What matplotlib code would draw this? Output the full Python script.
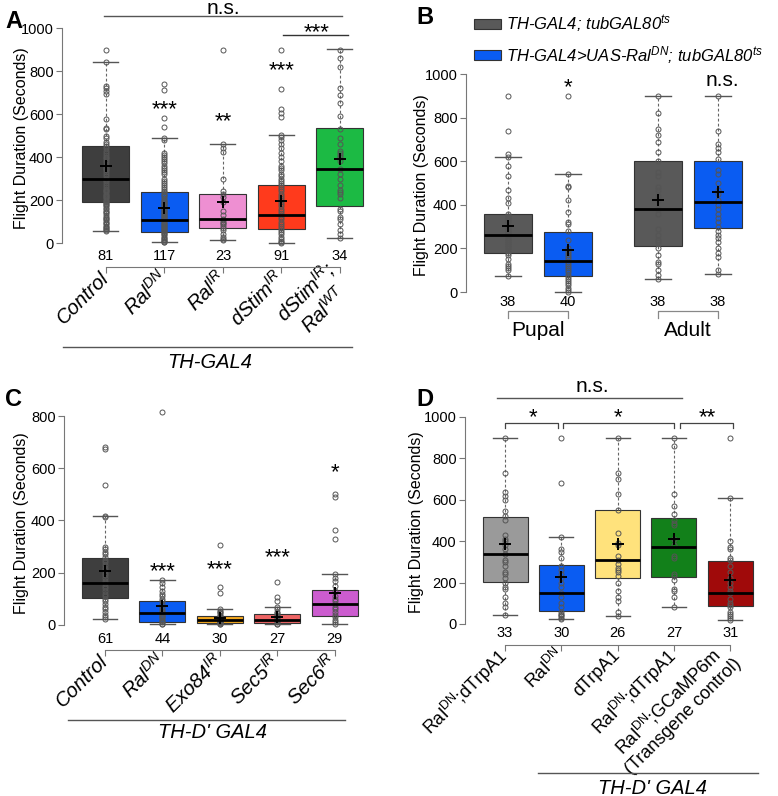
import matplotlib
matplotlib.use("Agg")
import matplotlib.pyplot as plt
from matplotlib.lines import Line2D
from matplotlib.patches import Patch
import numpy as np

plt.rcParams["font.family"] = "Liberation Sans"
plt.rcParams["mathtext.fontset"] = "custom"
plt.rcParams["mathtext.rm"] = "Liberation Sans"
plt.rcParams["mathtext.it"] = "Liberation Sans:italic"
plt.rcParams["mathtext.bf"] = "Liberation Sans:bold"

W, H = 778, 796

# ---------------- Panel A data ----------------
a_labels = ["Control", "Ral$^{DN}$", "Ral$^{IR}$", "dStim$^{IR}$", "dStim$^{IR}$;\nRal$^{WT}$"]
a_counts = [81, 117, 23, 91, 34]
a_q1 = [190, 51, 68, 65, 173]
a_med = [300, 105, 114, 131, 345]
a_q3 = [453, 235, 229, 269, 533]
a_lo = [57, 3, 15, 0, 23]
a_hi = [841, 487, 459, 502, 901]
a_mean = [360, 162, 193, 196, 390]
a_colors = ["#3e3e3e", "#0a5cf2", "#ee8fd2", "#ff3a1c", "#1cba44"]
a_points = [
    [900, 840, 730, 720, 705, 695, 575, 535, 530, 500, 490, 470, 460, 450, 440, 430, 420, 410,
     400, 395, 385, 375, 365, 355, 350, 345, 340, 330, 320, 310, 300, 295, 290, 280, 270, 260,
     250, 245, 240, 235, 230, 225, 220, 215, 210, 200, 195, 190, 185, 180, 175, 170, 165, 160,
     150, 145, 140, 130, 120, 115, 110, 105, 100, 95, 90, 80, 75, 70, 65, 60, 55],
    [740, 712, 583, 538, 487, 480, 420, 410, 400, 390, 380, 370, 360, 350, 340, 330, 320, 300,
     290, 280, 270, 260, 250, 240, 235, 230, 225, 220, 210, 200, 195, 190, 185, 180, 175, 170,
     165, 160, 155, 150, 145, 140, 135, 130, 125, 120, 115, 110, 105, 100, 95, 90, 85, 80, 75,
     70, 65, 60, 55, 50, 45, 40, 35, 30, 25, 20, 15, 10, 5, 3],
    [900, 459, 440, 425, 300, 240, 230, 215, 190, 150, 130, 110, 105, 100, 95, 90, 80, 70, 60,
     40, 30, 20, 15],
    [900, 714, 621, 606, 587, 502, 495, 480, 460, 440, 420, 400, 380, 360, 350, 340, 320, 310,
     300, 290, 280, 270, 260, 250, 240, 230, 220, 210, 200, 190, 180, 170, 160, 150, 140, 130,
     120, 110, 100, 90, 80, 70, 60, 50, 40, 30, 20, 10, 5, 0],
    [900, 860, 820, 720, 690, 650, 590, 530, 490, 460, 430, 420, 410, 400, 380, 345, 320, 300,
     270, 245, 235, 230, 210, 160, 150, 120, 110, 90, 60, 40, 25],
]

# ---------------- Panel B data ----------------
b_legend = ["TH-GAL4; tubGAL80$^{ts}$", "TH-GAL4>UAS-Ral$^{DN}$; tubGAL80$^{ts}$"]
b_groups = ["Pupal", "Adult"]
b_counts = [38, 40, 38, 38]
b_q1 = [180, 72, 211, 295]
b_med = [261, 141, 381, 411]
b_q3 = [359, 275, 599, 601]
b_lo = [73, 0, 61, 83]
b_hi = [621, 540, 898, 898]
b_mean = [301, 193, 422, 459]
b_colors = ["#595959", "#0a5cf2", "#595959", "#0a5cf2"]
b_points = [
    [900, 738, 635, 621, 580, 530, 470, 430, 410, 360, 350, 340, 330, 320, 300, 290, 280, 270,
     260, 250, 240, 230, 220, 210, 200, 190, 180, 170, 150, 130, 120, 110, 100, 73],
    [900, 540, 485, 480, 420, 365, 320, 310, 280, 240, 200, 190, 180, 170, 160, 150, 140, 130,
     120, 110, 100, 90, 80, 70, 60, 50, 40, 30, 20, 10, 0],
    [900, 820, 750, 720, 690, 640, 600, 550, 530, 480, 470, 440, 420, 380, 360, 290, 260, 240,
     230, 200, 170, 140, 130, 100, 80, 61],
    [900, 740, 680, 660, 640, 610, 560, 540, 500, 470, 450, 420, 400, 380, 360, 340, 320, 300,
     280, 260, 250, 230, 200, 180, 160, 100, 83],
]

# ---------------- Panel C data ----------------
c_labels = ["Control", "Ral$^{DN}$", "Exo84$^{IR}$", "Sec5$^{IR}$", "Sec6$^{IR}$"]
c_counts = [61, 44, 30, 27, 29]
c_q1 = [102, 10, 8, 6, 34]
c_med = [159, 45, 18, 20, 80]
c_q3 = [256, 91, 36, 41, 133]
c_lo = [24, 3, 3, 3, 3]
c_hi = [417, 171, 61, 68, 195]
c_mean = [205, 73, 26, 32, 121]
c_colors = ["#3e3e3e", "#0a5cf2", "#f4a81e", "#ee6464", "#cc5ccf"]
c_points = [
    [683, 672, 536, 417, 412, 300, 290, 280, 270, 260, 250, 240, 230, 220, 210, 200, 190, 180,
     170, 160, 150, 140, 130, 120, 110, 100, 90, 80, 70, 60, 50, 40, 30, 24],
    [815, 171, 160, 145, 130, 120, 110, 100, 90, 80, 70, 60, 55, 50, 45, 40, 35, 30, 25, 20,
     15, 10, 5, 3],
    [305, 145, 122, 61, 55, 50, 45, 40, 35, 30, 25, 20, 18, 15, 12, 10, 8, 5, 3],
    [163, 107, 92, 68, 60, 50, 45, 40, 35, 30, 25, 20, 15, 10, 5, 3],
    [502, 491, 364, 329, 195, 180, 170, 150, 130, 110, 100, 90, 80, 70, 60, 50, 40, 30, 20, 10, 3],
]

# ---------------- Panel D data ----------------
d_labels = ["Ral$^{\\mathrm{DN}}$;dTrpA1", "Ral$^{\\mathrm{DN}}$", "dTrpA1", "Ral$^{\\mathrm{DN}}$;dTrpA1",
            "Ral$^{\\mathrm{DN}}$;GCaMP6m\n(Transgene control)"]
d_counts = [33, 30, 26, 27, 31]
d_q1 = [202, 61, 223, 228, 88]
d_med = [339, 148, 310, 374, 152]
d_q3 = [518, 286, 549, 510, 305]
d_lo = [45, 24, 40, 82, 18]
d_hi = [899, 419, 899, 899, 607]
d_mean = [387, 225, 387, 409, 213]
d_colors = ["#9a9a9a", "#0a5cf2", "#ffe27c", "#12801a", "#a00a0a"]
d_points = [
    [899, 730, 640, 620, 600, 545, 520, 500, 430, 410, 400, 380, 360, 340, 310, 300, 280, 250,
     240, 220, 200, 180, 170, 130, 100, 80, 45],
    [900, 682, 419, 360, 350, 320, 280, 260, 240, 220, 200, 180, 150, 130, 100, 80, 60, 50, 45,
     40, 30, 24],
    [899, 730, 700, 630, 550, 440, 390, 380, 330, 310, 290, 270, 260, 250, 230, 200, 160, 130,
     110, 60, 40],
    [899, 860, 630, 570, 530, 500, 490, 480, 410, 380, 330, 320, 240, 230, 210, 170, 160, 130, 82],
    [900, 607, 400, 370, 360, 320, 310, 280, 250, 220, 200, 180, 160, 150, 120, 100, 90, 80, 60,
     50, 40, 30, 18],
]

fig = plt.figure(figsize=(W / 100, H / 100), dpi=100)


def px_axes(left, top, right, bottom):
    return fig.add_axes([left / W, 1 - bottom / H, (right - left) / W, (bottom - top) / H])


def fig_line(x0, x1, y):
    fig.add_artist(Line2D([x0 / W, x1 / W], [1 - y / H, 1 - y / H], transform=fig.transFigure,
                          color="#555555", lw=1))


def fig_text(x, y, s, **kw):
    fig.text(x / W, 1 - y / H, s, ha="center", va="center", **kw)


def draw_boxes(ax, pos, q1, med, q3, lo, hi, mean, points, colors, counts, count_y):
    stats = [dict(q1=a, med=m, q3=b, whislo=l, whishi=h, mean=mn, fliers=[])
             for a, m, b, l, h, mn in zip(q1, med, q3, lo, hi, mean)]
    bp = ax.bxp(stats, positions=pos, widths=0.8, capwidths=0.43, patch_artist=True, showmeans=True,
                boxprops=dict(edgecolor="#333333", linewidth=0.8),
                whiskerprops=dict(color="#666666", linewidth=0.8, linestyle=(0, (2.5, 2))),
                capprops=dict(color="#555555", linewidth=1.0),
                medianprops=dict(color="black", linewidth=2),
                meanprops=dict(marker="+", markersize=8, markeredgewidth=1.4, markeredgecolor="black"),
                manage_ticks=False, zorder=2)
    for patch, c in zip(bp["boxes"], colors):
        patch.set_facecolor(c)
    # raw points on top of the boxes
    for x, vals in zip(pos, points):
        ax.plot([x] * len(vals), vals, "o", mfc="none", mec="#555555", ms=3.6, mew=0.7,
                zorder=3, clip_on=False)
    for l in bp["medians"]:
        l.set_zorder(4)
    for l in bp["means"]:
        l.set_zorder(5)
    for x, n in zip(pos, counts):
        ax.text(x, count_y, str(n), ha="center", va="center", fontsize=10.5)


def style_axes(ax, ytop, ystep, ylabel_x):
    ax.spines["top"].set_visible(False)
    ax.spines["right"].set_visible(False)
    ax.spines["left"].set_bounds(0, ytop)
    ax.spines["left"].set_color("#777777")
    ax.spines["bottom"].set_color("#777777")
    ax.set_yticks(np.arange(0, ytop + 1, ystep))
    ax.tick_params(axis="y", length=4, width=0.8, color="#777777", labelsize=10.5, pad=2)
    ax.tick_params(axis="x", length=4, width=0.8, color="#777777")
    ax.set_ylabel("Flight Duration (Seconds)", fontsize=11.5)
    ax.yaxis.set_label_coords(ylabel_x, 0.5)
    ax.patch.set_visible(False)


def bottom_axis(ax, pos, labels, offset, fontsize, style, pad):
    ax.spines["bottom"].set_position(("outward", offset))
    ax.spines["bottom"].set_bounds(pos[0], pos[-1])
    ax.set_xticks(pos)
    ax.set_xticklabels(labels, rotation=45, ha="right", va="center", rotation_mode="anchor",
                       fontsize=fontsize, style=style, multialignment="center")
    ax.tick_params(axis="x", pad=pad)


pos5 = [1, 2, 3, 4, 5]

# ---------------- Panel A ----------------
axA = px_axes(62, 28, 375, 248.4)
axA.set_xlim(0.25, 5.6)
axA.set_ylim(-25, 1000)
draw_boxes(axA, pos5, a_q1, a_med, a_q3, a_lo, a_hi, a_mean, a_points, a_colors, a_counts, -60)
style_axes(axA, 1000, 200, -0.105)
bottom_axis(axA, pos5, a_labels, 13.4, 14.5, "italic", 1.5)
axA.plot([0.97, 5.04], [1056, 1056], color="#555555", lw=1, clip_on=False)
axA.text(3.0, 1093, "n.s.", ha="center", va="center", fontsize=15)
axA.plot([4.03, 5.14], [967, 967], color="#333333", lw=1, clip_on=False)
axA.text(4.6, 977, "***", ha="center", va="center", fontsize=16)
axA.text(2, 619, "***", ha="center", va="center", fontsize=16)
axA.text(3, 563, "**", ha="center", va="center", fontsize=16)
axA.text(4, 800, "***", ha="center", va="center", fontsize=16)
fig_line(63, 352, 347)
fig_text(210, 362, "TH-GAL4", fontsize=14.5, style="italic")
fig_text(14, 21, "A", fontsize=17, weight="bold")

# ---------------- Panel B ----------------
b_pos = [1, 2, 3.5, 4.5]
axB = px_axes(466, 74, 748, 296.4)
axB.set_xlim(0.3, 5.0)
axB.set_ylim(-20, 1000)
draw_boxes(axB, b_pos, b_q1, b_med, b_q3, b_lo, b_hi, b_mean, b_points, b_colors, b_counts, -46)
style_axes(axB, 1000, 200, -0.131)
axB.spines["bottom"].set_visible(False)
axB.set_xticks([])
for (x0, x1), name in zip([(b_pos[0], b_pos[1]), (b_pos[2], b_pos[3])], b_groups):
    axB.plot([x0, x0, x1, x1], [-119, -87, -87, -119], color="#888888", lw=0.9, clip_on=False)
    axB.text((x0 + x1) / 2, -176, name, ha="center", va="center", fontsize=15)
axB.text(2, 936, "*", ha="center", va="center", fontsize=16)
axB.text(4.57, 972, "n.s.", ha="center", va="center", fontsize=15)
handles = [Patch(facecolor=c, edgecolor="#333333", lw=0.8) for c in b_colors[:2]]
fig.legend(handles, b_legend, loc="upper left", bbox_to_anchor=(474 / W, 1 - 13 / H),
           frameon=False, prop=dict(style="italic", size=12), handlelength=1.6,
           handleheight=0.6, handletextpad=0.3, labelspacing=0.55, borderpad=0, borderaxespad=0)
fig_text(425, 17, "B", fontsize=17, weight="bold")

# ---------------- Panel C ----------------
axC = px_axes(64, 416, 372, 630.2)
axC.set_xlim(0.287, 5.65)
axC.set_ylim(-20, 800)
draw_boxes(axC, pos5, c_q1, c_med, c_q3, c_lo, c_hi, c_mean, c_points, c_colors, c_counts, -54)
style_axes(axC, 800, 200, -0.114)
bottom_axis(axC, pos5, c_labels, 14.3, 14.5, "italic", 1.5)
axC.text(2, 203, "***", ha="center", va="center", fontsize=16)
axC.text(3, 211, "***", ha="center", va="center", fontsize=16)
axC.text(4, 257, "***", ha="center", va="center", fontsize=16)
axC.text(5, 582, "*", ha="center", va="center", fontsize=16)
fig_line(68, 345, 720)
fig_text(213, 733, "TH-D' GAL4", fontsize=14.5, style="italic")
fig_text(14, 399, "C", fontsize=17, weight="bold")

# ---------------- Panel D ----------------
axD = px_axes(465, 417, 764, 628.1)
axD.set_xlim(0.289, 5.6)
axD.set_ylim(-20, 1000)
draw_boxes(axD, pos5, d_q1, d_med, d_q3, d_lo, d_hi, d_mean, d_points, d_colors, d_counts, -43)
style_axes(axD, 1000, 200, -0.137)
bottom_axis(axD, pos5, d_labels, 12.2, 13, "normal", 1.5)
for x0, x1, star, sx in [(1, 1.94, "*", 1.5), (2.03, 4, "*", 3.0), (4.1, 5.05, "**", 4.6)]:
    axD.plot([x0, x0, x1, x1], [947, 971, 971, 947], color="#444444", lw=0.9, clip_on=False)
    axD.text(sx, 995, star, ha="center", va="center", fontsize=16)
axD.plot([0.86, 4.15], [1092, 1092], color="#555555", lw=1, clip_on=False)
axD.text(2.55, 1145, "n.s.", ha="center", va="center", fontsize=15)
fig_line(538, 758, 773)
fig_text(653, 788, "TH-D' GAL4", fontsize=14.5, style="italic")
fig_text(425, 399, "D", fontsize=17, weight="bold")

fig.savefig("out.png", dpi=100)
